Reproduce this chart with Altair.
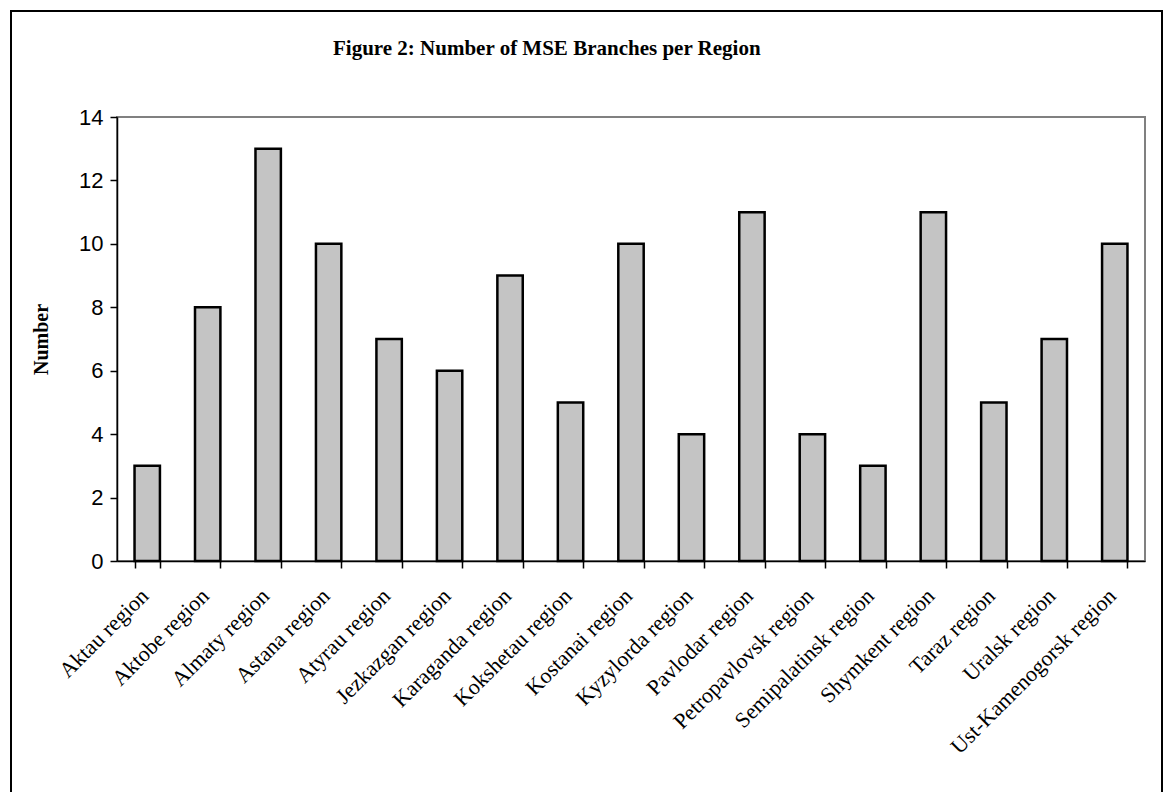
import altair as alt
import pandas as pd

regions = ["Aktau region", "Aktobe region", "Almaty region", "Astana region",
           "Atyrau region", "Jezkazgan region", "Karaganda region", "Kokshetau region",
           "Kostanai region", "Kyzylorda region", "Pavlodar region", "Petropavlovsk region",
           "Semipalatinsk region", "Shymkent region", "Taraz region", "Uralsk region",
           "Ust-Kamenogorsk region"]
branches = [3, 8, 13, 10, 7, 6, 9, 5, 10, 4, 11, 4, 3, 11, 5, 7, 10]
y_ticks = [0, 2, 4, 6, 8, 10, 12, 14]

df = pd.DataFrame({"Region": regions, "Number": branches})

W, H = 1028, 444

bars = alt.Chart(df).mark_bar(
    fill="#c4c4c4", stroke="black", strokeWidth=2.5
).encode(
    x=alt.X("Region:N", sort=regions, title=None,
            scale=alt.Scale(paddingInner=0.58, paddingOuter=0.29),
            axis=alt.Axis(labelAngle=-45, labelAlign="right", labelBaseline="middle",
                          labelFont="Liberation Serif", labelFontSize=22, labelColor="black",
                          labelPadding=24, labelOffset=-3, labelLimit=0,
                          tickBand="extent", tickSize=7, tickColor="black",
                          tickWidth=1.5, domainColor="black", domainWidth=1.5,
                          labelOverlap=False)),
    y=alt.Y("Number:Q", title="Number",
            scale=alt.Scale(domain=[0, 14], nice=False),
            axis=alt.Axis(values=y_ticks, labelFont="Liberation Sans", labelFontSize=22,
                          labelColor="black", labelPadding=7, tickSize=7, tickColor="black",
                          tickWidth=1.5, domainColor="black", domainWidth=1.5, grid=False,
                          titleFont="Liberation Serif", titleFontSize=20, titleFontWeight="bold",
                          titleColor="black", titlePadding=27))
)

frame = alt.Chart(df).mark_rect(
    fill=None, stroke="black", strokeWidth=2, clip=False
).encode(
    x=alt.value(-106), x2=alt.value(1045), y=alt.value(-106), y2=alt.value(800)
)

chart = alt.layer(bars, frame).properties(
    width=W, height=H,
    title=alt.TitleParams("Figure 2: Number of MSE Branches per Region",
                          font="Liberation Serif", fontSize=21, fontWeight="bold",
                          color="black", anchor="start", frame="group", dx=216,
                          offset=-66, baseline="alphabetic"),
    autosize=alt.AutoSizeParams(type="none"),
    padding={"left": 109, "top": 109, "right": 18, "bottom": 231}
).configure(
    background="white",
    view=alt.ViewConfig(stroke="#808080", strokeWidth=2)
)

chart.save("out.html", embed_options={"renderer": "svg", "actions": False})
